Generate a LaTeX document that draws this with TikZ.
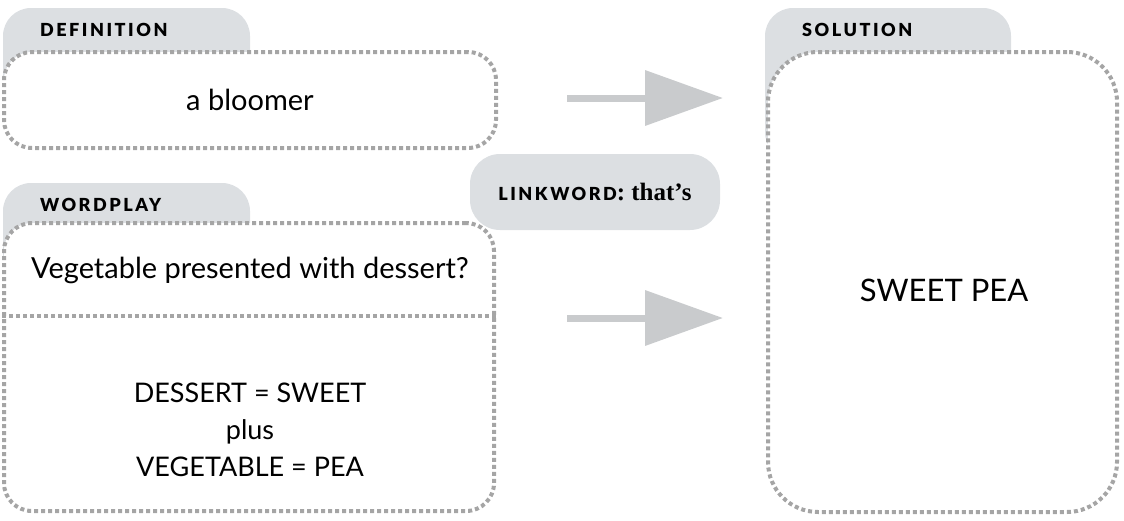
\documentclass[tikz,border=0pt]{standalone}
\usepackage{fontspec}
\setmainfont{Lato}
\newfontfamily\tabfont[LetterSpace=14]{Lato Black}
\newfontfamily\linkserif{Liberation Serif}
\usepackage{xcolor}
\usepackage{tikz}
\usetikzlibrary{arrows.meta}
\usetikzlibrary{backgrounds,positioning}
\pgfdeclarelayer{edgelayer}
\pgfdeclarelayer{nodelayer}
\pgfsetlayers{background,edgelayer,nodelayer,main}
\definecolor{tabgray}{RGB}{220,223,226}
\definecolor{dotgray}{RGB}{165,165,165}
\definecolor{arrowgray}{RGB}{201,203,205}
\tikzstyle{none}=[inner sep=0mm]
\tikzstyle{tab}=[fill=tabgray,rounded corners=28pt]
\tikzstyle{tablabel}=[inner sep=0mm,anchor=west,font=\tabfont\fontsize{18}{18}\selectfont]
\tikzstyle{dotbox}=[draw=dotgray,fill=white,line width=4pt,dash pattern=on 4pt off 3pt,rounded corners=28pt,inner sep=0mm]
\tikzstyle{dotline}=[draw=dotgray,line width=4pt,dash pattern=on 4pt off 3pt]
\tikzstyle{body}=[inner sep=0mm,align=center,font=\fontsize{29}{37}\selectfont]
\tikzstyle{linkbox}=[fill=tabgray,rounded corners=30pt,inner sep=0mm,minimum width=250pt,minimum height=76pt]
\tikzstyle{bigarrow}=[draw=arrowgray,line width=7pt,-{Triangle[length=78pt,width=54pt]}]

\begin{document}
\begin{tikzpicture}[x=1pt,y=-1pt]
	\useasboundingbox (0,0) rectangle (1124,520);
	\begin{pgfonlayer}{edgelayer}
		% tabs behind the boxes
		\fill [style=tab] (3,8) rectangle (250,100);
		\fill [style=tab] (3,183) rectangle (250,280);
		\fill [style=tab] (765,8) rectangle (1011,160);
		\coordinate (d1) at (567,98);
		\coordinate (s1) at (723,98);
		\coordinate (w1) at (567,318);
		\coordinate (s2) at (723,318);
		\draw [style=bigarrow] (d1) to (s1);
		\draw [style=bigarrow] (w1) to (s2);
	\end{pgfonlayer}
	\begin{pgfonlayer}{nodelayer}
		\node [style=tablabel] (deflabel) at (40,30) {DEFINITION};
		\node [style=tablabel] (wplabel) at (40,205) {WORDPLAY};
		\node [style=tablabel] (sollabel) at (802,30) {SOLUTION};
		\node [style=dotbox, minimum width=492pt, minimum height=96pt] (def) at (250,100) {};
		\node [style=dotbox, minimum width=490pt, minimum height=288pt] (wp) at (249,367) {};
		\node [style=dotbox, rounded corners=50pt, minimum width=349pt, minimum height=460pt] (sol) at (942.5,282) {};
		\coordinate (wdiv) at (0,316);
		\draw [style=dotline] (wp.west |- wdiv) to (wp.east |- wdiv);
		\node [style=body] (deftext) at (def.center) {a bloomer};
		\node [style=body] (clue) at (250,270) {Vegetable presented with dessert?};
		\node [style=body, font=\fontsize{27}{37}\selectfont] (parse) at (250,430) {DESSERT = SWEET\\plus\\VEGETABLE = PEA};
		\node [style=body, font=\fontsize{31}{31}\selectfont] (soltext) at (944,290) {SWEET PEA};
		\node [style=linkbox] (link) at (595,192) {{\tabfont\fontsize{18}{18}\selectfont LINKWORD}{\linkserif\bfseries\fontsize{25}{25}\selectfont: that’s}};
	\end{pgfonlayer}
\end{tikzpicture}
\end{document}
